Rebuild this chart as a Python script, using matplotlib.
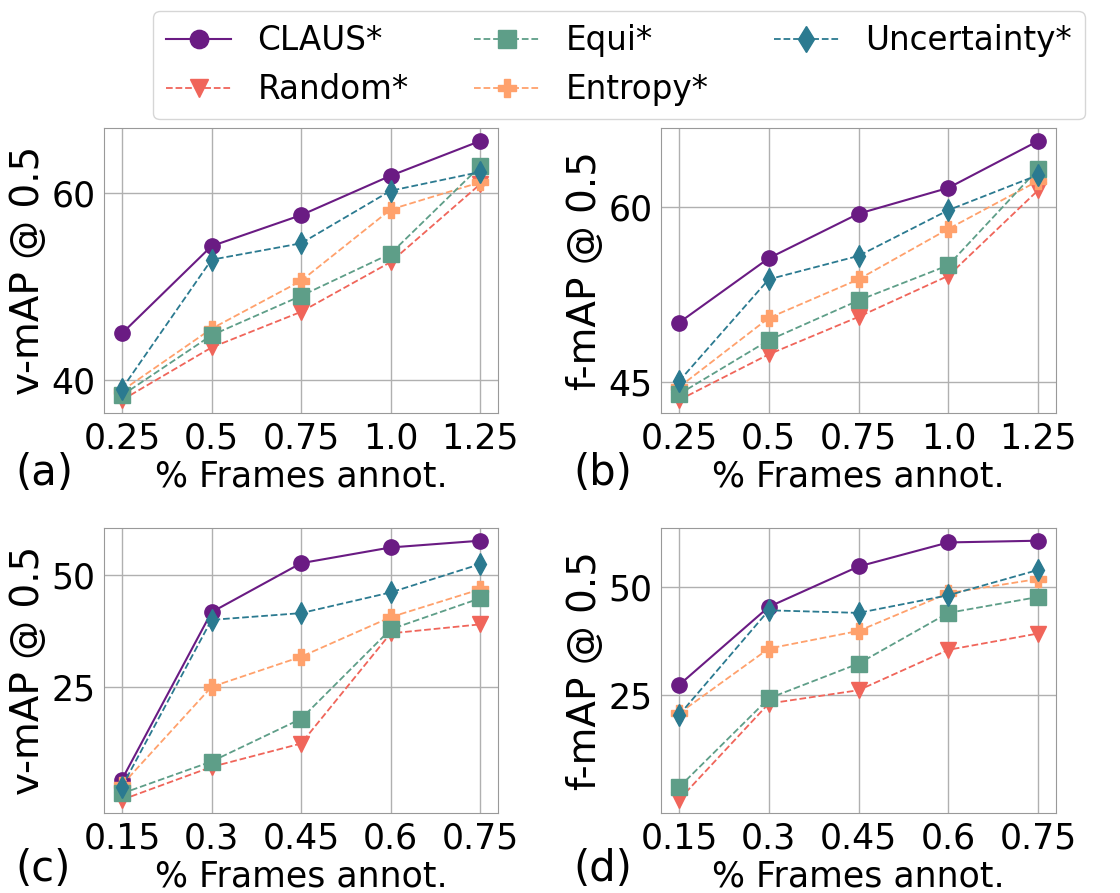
import numpy as np
import matplotlib
matplotlib.use("Agg")
import matplotlib.pyplot as plt

# x values (% frames annotated)
x_top = [0.25, 0.5, 0.75, 1.0, 1.25]
x_bot = [0.15, 0.3, 0.45, 0.6, 0.75]
xlab_top = ["0.25", "0.5", "0.75", "1.0", "1.25"]
xlab_bot = ["0.15", "0.3", "0.45", "0.6", "0.75"]

methods = ["CLAUS*", "Random*", "Equi*", "Entropy*", "Uncertainty*"]

# (a) v-mAP, top row
a_claus = [45.0, 54.3, 57.6, 61.8, 65.5]
a_random = [37.9, 43.5, 47.3, 52.6, 60.9]
a_equi = [38.4, 44.8, 49.0, 53.5, 62.8]
a_entropy = [38.9, 45.5, 50.6, 58.2, 61.1]
a_uncert = [39.1, 52.85, 54.6, 60.2, 62.2]

# (b) f-mAP, top row
b_claus = [50.1, 55.6, 59.4, 61.6, 65.6]
b_random = [43.5, 47.4, 50.6, 54.1, 61.4]
b_equi = [44.0, 48.6, 52.0, 55.0, 63.2]
b_entropy = [44.6, 50.5, 53.8, 58.1, 62.2]
b_uncert = [45.1, 53.8, 55.8, 59.7, 62.7]

# (c) v-mAP, bottom row
c_claus = [4.5, 41.7, 52.6, 56.1, 57.6]
c_random = [0.0, 7.3, 12.5, 37.0, 39.0]
c_equi = [1.4, 8.5, 18.0, 37.9, 44.8]
c_entropy = [3.3, 25.1, 31.8, 40.6, 46.8]
c_uncert = [2.9, 40.0, 41.5, 46.1, 52.4]

# (d) f-mAP, bottom row
d_claus = [27.2, 45.4, 54.8, 60.4, 60.8]
d_random = [0.5, 22.9, 26.0, 35.4, 39.2]
d_equi = [3.4, 24.1, 32.2, 44.0, 47.7]
d_entropy = [20.6, 35.7, 39.8, 48.6, 51.9]
d_uncert = [20.2, 44.6, 44.0, 48.1, 54.0]

colors = ["#6a1b83", "#f0655a", "#5e9e88", "#ffa16c", "#2b7a90"]
markers = ["o", "v", "s", "P", "d"]
styles = ["-", "--", "--", "--", "--"]
widths = [1.5, 1.3, 1.3, 1.3, 1.3]
zorders = [2, 3, 5, 4, 6]

panels = [
    ([0.0929, 0.5375, 0.3518, 0.3191], x_top, xlab_top,
     [a_claus, a_random, a_equi, a_entropy, a_uncert], "v-mAP @ 0.5", [40, 60], "(a)"),
    ([0.5902, 0.5375, 0.3527, 0.3191], x_top, xlab_top,
     [b_claus, b_random, b_equi, b_entropy, b_uncert], "f-mAP @ 0.5", [45, 60], "(b)"),
    ([0.0929, 0.0899, 0.3518, 0.3191], x_bot, xlab_bot,
     [c_claus, c_random, c_equi, c_entropy, c_uncert], "v-mAP @ 0.5", [25, 50], "(c)"),
    ([0.5902, 0.0899, 0.3527, 0.3191], x_bot, xlab_bot,
     [d_claus, d_random, d_equi, d_entropy, d_uncert], "f-mAP @ 0.5", [25, 50], "(d)"),
]
letter_pos = [(0.0134, 0.457), (0.5116, 0.457), (0.0134, 0.013), (0.5116, 0.013)]

fig = plt.figure(figsize=(11.2, 8.93), dpi=100)

handles = []
for k, (rect, xs, xl, series, ylab, yt, letter) in enumerate(panels):
    ax = fig.add_axes(rect)
    for i, ys in enumerate(series):
        ln, = ax.plot(xs, ys, linestyle=styles[i], color=colors[i], marker=markers[i],
                      markersize=11, linewidth=widths[i], zorder=zorders[i], label=methods[i])
        if k == 0:
            handles.append(ln)
    ax.set_xticks(xs)
    ax.set_xticklabels(xl)
    ax.set_yticks(yt)
    ax.tick_params(labelsize=25, length=0, pad=6)
    ax.grid(True, color="#b0b0b0", linewidth=1.0)
    ax.set_axisbelow(True)
    for sp in ax.spines.values():
        sp.set_color("#999999")
    ax.set_xlabel("% Frames annot.", fontsize=25, labelpad=3)
    ax.set_ylabel(ylab, fontsize=28, labelpad=3)
    fig.text(letter_pos[k][0], letter_pos[k][1], letter, fontsize=30, va="baseline", ha="left")

fig.legend(handles=handles, labels=methods, ncol=3, fontsize=23.5, markerscale=1.2,
           loc="upper center", bbox_to_anchor=(619 / 1120, 1 - 11 / 893), borderaxespad=0)

fig.savefig("out.png", dpi=100)
